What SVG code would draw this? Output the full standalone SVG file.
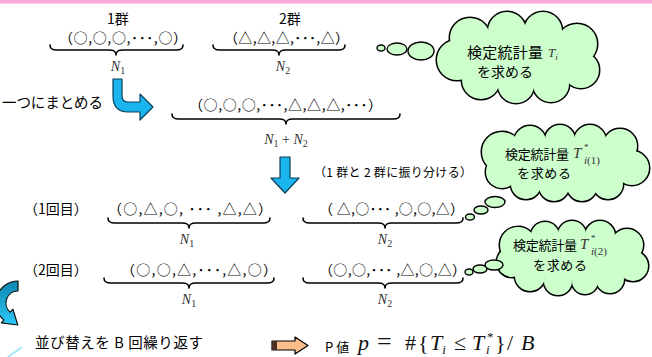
<svg xmlns="http://www.w3.org/2000/svg" width="652" height="357" viewBox="0 0 652 357">
<defs>
<style>
.jp { font-family: "Noto Sans CJK JP", "Noto Sans", sans-serif; fill:#000; }
.m { font-family: "Liberation Serif", "DejaVu Serif", serif; font-style: italic; fill:#333; }
.up { font-style: normal; }
.brace { fill:none; stroke:#000; stroke-width:1.6; stroke-linecap:round; stroke-linejoin:round; }
.cloud-o { fill:#000; stroke:#000; stroke-width:3; }
.cloud-f { fill:#ccffcc; stroke:none; }
.bub { fill:#ccffcc; stroke:#000; stroke-width:1.4; }
.blue { fill:#1ab4ee; stroke:#0a3f5a; stroke-width:1.2; stroke-linejoin:round; }
</style>
<linearGradient id="gc" x1="0" y1="0" x2="0" y2="1">
<stop offset="0" stop-color="#0e86b0"/><stop offset="1" stop-color="#2cc8f8"/>
</linearGradient>
<g id="c1s">
<circle cx="470" cy="38" r="20"/><circle cx="507" cy="31" r="19"/><circle cx="543" cy="31" r="19"/>
<circle cx="577" cy="44" r="20"/><circle cx="581" cy="70" r="18"/><circle cx="551" cy="84" r="18"/>
<circle cx="516" cy="85" r="18"/><circle cx="481" cy="80" r="19"/><circle cx="457" cy="60" r="20"/>
<ellipse cx="518" cy="57" rx="62" ry="30"/>
</g>
<g id="c2s">
<circle cx="502" cy="152" r="20"/><circle cx="530" cy="142" r="16"/><circle cx="560" cy="140" r="15"/>
<circle cx="590" cy="141" r="16"/><circle cx="620" cy="146" r="17"/><circle cx="632" cy="168" r="17"/>
<circle cx="608" cy="184" r="15"/><circle cx="582" cy="186" r="15"/><circle cx="554" cy="186" r="15"/>
<circle cx="526" cy="184" r="15"/><circle cx="502" cy="172" r="16"/>
<ellipse cx="566" cy="163" rx="62" ry="24"/>
</g>
<g id="c3s">
<circle cx="518" cy="245" r="18"/><circle cx="545" cy="236" r="14"/><circle cx="572" cy="235" r="14"/>
<circle cx="600" cy="236" r="15"/><circle cx="627" cy="245" r="16"/><circle cx="633" cy="266" r="15"/>
<circle cx="610" cy="279" r="14"/><circle cx="585" cy="281" r="13"/><circle cx="558" cy="281" r="14"/>
<circle cx="530" cy="276" r="15"/><circle cx="512" cy="262" r="15"/>
<ellipse cx="573" cy="258" rx="58" ry="22"/>
</g>
</defs>

<rect x="0" y="0" width="652" height="3.5" fill="#f8a8d4"/>

<g id="group1">
<text class="jp" x="107" y="24" font-size="14">1群</text>
<text class="jp" x="59" y="43" font-size="14" textLength="128" lengthAdjust="spacing">（○,○,○,･･･,○）</text>
<path class="brace" d="M50,45 C50,49 52,50 57,50 L109,50 C114,50 116,51 116,55 C116,51 118,50 123,50 L176,50 C181,50 183,49 183,45"/>
<text class="m" x="118" y="71" font-size="14" text-anchor="middle">N<tspan class="up" font-size="10" dy="3">1</tspan></text>
</g>

<g id="group2">
<text class="jp" x="279" y="24" font-size="14">2群</text>
<text class="jp" x="224" y="43" font-size="14" textLength="125" lengthAdjust="spacing">（△,△,△,･･･,△）</text>
<path class="brace" d="M213,45 C213,49 215,50 220,50 L272,50 C277,50 279,51 279,55 C279,51 281,50 286,50 L338,50 C343,50 345,49 345,45"/>
<text class="m" x="283" y="71" font-size="14" text-anchor="middle">N<tspan class="up" font-size="10" dy="3">2</tspan></text>
</g>

<g id="cloud1">
<use href="#c1s" class="cloud-o"/>
<use href="#c1s" class="cloud-f"/>
<text class="jp" x="467" y="58" font-size="15" textLength="76" lengthAdjust="spacing">検定統計量</text>
<text class="m" x="548" y="57" font-size="13">T<tspan font-size="9" dy="3">i</tspan></text>
<text class="jp" x="477" y="77" font-size="14" textLength="56" lengthAdjust="spacing">を求める</text>
</g>

<g id="merge">
<text class="jp" x="2" y="108" font-size="14.5" textLength="101" lengthAdjust="spacing">一つにまとめる</text>
<text class="jp" x="189" y="110" font-size="14" textLength="193" lengthAdjust="spacing">（○,○,○,･･･,△,△,△,･･･）</text>
<path class="brace" d="M172,114 C172,118 174,119 179,119 L279,119 C284,119 286,120 286,124 C286,120 288,119 293,119 L393,119 C398,119 400,118 400,114"/>
<text class="m" x="286" y="144" font-size="14" text-anchor="middle">N<tspan class="up" font-size="10" dy="3">1</tspan><tspan class="up" dy="-3"> + </tspan>N<tspan class="up" font-size="10" dy="3">2</tspan></text>
</g>

<g id="split-label">
<text class="jp" x="314" y="177" font-size="12" textLength="158" lengthAdjust="spacing">（1 群と 2 群に振り分ける）</text>
</g>

<g id="cloud2">
<use href="#c2s" class="cloud-o"/>
<use href="#c2s" class="cloud-f"/>
<text class="jp" x="505" y="159" font-size="13" textLength="64" lengthAdjust="spacing">検定統計量</text>
<text class="m" x="573" y="158" font-size="15">T<tspan class="up" font-size="9" x="584" dy="-8">*</tspan><tspan font-size="11" x="584" dy="14">i</tspan><tspan class="up" font-size="11">(1)</tspan></text>
<text class="jp" x="517" y="178" font-size="13" textLength="54" lengthAdjust="spacing">を求める</text>
</g>

<g id="row1">
<text class="jp" x="24" y="214" font-size="14">（1回目）</text>
<text class="jp" x="108" y="214" font-size="14" textLength="164" lengthAdjust="spacing">（○,△,○, ･･･ ,△,△）</text>
<path class="brace" d="M108,218 C108,222 110,223 115,223 L182,223 C187,223 189,224 189,228 C189,224 191,223 196,223 L263,223 C268,223 270,222 270,218"/>
<text class="m" x="187" y="244" font-size="14" text-anchor="middle">N<tspan class="up" font-size="10" dy="3">1</tspan></text>
<text class="jp" x="319" y="214" font-size="14" textLength="145" lengthAdjust="spacing">（ △,○･･･ ,○,○,△）</text>
<path class="brace" d="M303,218 C303,222 305,223 310,223 L378,223 C383,223 385,224 385,228 C385,224 387,223 392,223 L456,223 C461,223 463,222 463,218"/>
<text class="m" x="385" y="244" font-size="14" text-anchor="middle">N<tspan class="up" font-size="10" dy="3">2</tspan></text>
</g>

<g id="cloud3">
<use href="#c3s" class="cloud-o"/>
<use href="#c3s" class="cloud-f"/>
<text class="jp" x="513" y="250" font-size="13" textLength="64" lengthAdjust="spacing">検定統計量</text>
<text class="m" x="580" y="249" font-size="15">T<tspan class="up" font-size="9" x="591" dy="-8">*</tspan><tspan font-size="11" x="591" dy="14">i</tspan><tspan class="up" font-size="11">(2)</tspan></text>
<text class="jp" x="533" y="270" font-size="13" textLength="54" lengthAdjust="spacing">を求める</text>
</g>

<g id="row2">
<text class="jp" x="24" y="275" font-size="14">（2回目）</text>
<text class="jp" x="121" y="275" font-size="14" textLength="156" lengthAdjust="spacing">（○,○,△,･･･,△,○）</text>
<path class="brace" d="M104,278 C104,282 106,283 111,283 L182,283 C187,283 189,284 189,288 C189,284 191,283 196,283 L267,283 C272,283 274,282 274,278"/>
<text class="m" x="189" y="304" font-size="14" text-anchor="middle">N<tspan class="up" font-size="10" dy="3">1</tspan></text>
<text class="jp" x="319" y="275" font-size="14" textLength="147" lengthAdjust="spacing">（○,○,･･･ ,△,○,△）</text>
<path class="brace" d="M303,278 C303,282 305,283 310,283 L378,283 C383,283 385,284 385,288 C385,284 387,283 392,283 L456,283 C461,283 463,282 463,278"/>
<text class="m" x="385" y="304" font-size="14" text-anchor="middle">N<tspan class="up" font-size="10" dy="3">2</tspan></text>
</g>

<g id="repeat">
<text class="jp" x="35" y="348" font-size="14.5" textLength="168" lengthAdjust="spacing">並び替えを B 回繰り返す</text>
</g>

<g id="pvalue">
<text class="jp" x="325" y="352" font-size="13">P 値</text>
<g font-family="Liberation Serif, DejaVu Serif, serif" font-size="22" fill="#111">
<text x="358" y="350" font-style="italic">p</text>
<text x="377" y="350" font-size="26">=</text>
<text x="405" y="350">#</text>
<text x="418" y="350">{</text>
<text x="430" y="350" font-style="italic">T<tspan font-size="13" dy="4">i</tspan></text>
<text x="454" y="350">≤</text>
<text x="472" y="350" font-style="italic">T<tspan font-style="normal" font-size="13" x="487" dy="-9">*</tspan><tspan font-size="13" x="486" dy="13">i</tspan></text>
<text x="495" y="350">}</text>
<text x="507" y="350">/</text>
<text x="521" y="350" font-style="italic">B</text>
</g>
</g>

<g id="connectors">
<ellipse class="bub" cx="381" cy="48" rx="4" ry="3"/>
<ellipse class="bub" cx="397" cy="49" rx="10" ry="6"/>
<ellipse class="bub" cx="421" cy="51" rx="13" ry="9"/>
<ellipse class="bub" cx="470" cy="217" rx="4.5" ry="3"/>
<ellipse class="bub" cx="481" cy="210" rx="7" ry="4"/>
<ellipse class="bub" cx="495" cy="202" rx="10" ry="5.5"/>
<ellipse class="bub" cx="469" cy="272" rx="4" ry="3"/>
<ellipse class="bub" cx="480" cy="269" rx="7" ry="4"/>
<ellipse class="bub" cx="494" cy="265" rx="9" ry="5"/>
<path class="blue" d="M113,79 L122,79 L122,96 Q122,102 128,102 L140,102 L140,94 L153,107 L140,120 L140,112 L128,112 Q113,112 113,96 Z"/>
<path class="blue" d="M280,157 H290 V178 H299 L285,193 L271,178 H280 Z"/>
<path d="M18,281 A22,22 0 0 0 3.9,319.9 L1.3,322.9 L17.8,325 L12.9,309.1 L10.3,312.2 A12,12 0 0 1 18,291 Z" fill="url(#gc)" stroke="#111" stroke-width="1.2" stroke-linejoin="round"/>
<line x1="8" y1="357" x2="22" y2="347" stroke="#a6e6f8" stroke-width="2"/>
<path d="M272,341 H295 V337 L308,345.5 L295,354 V350 H272 Z" fill="#fbbd8a" stroke="#000" stroke-width="1.2" stroke-linejoin="round"/>
<rect x="272" y="341" width="5" height="9" fill="#4a3020"/>
</g>
</svg>
